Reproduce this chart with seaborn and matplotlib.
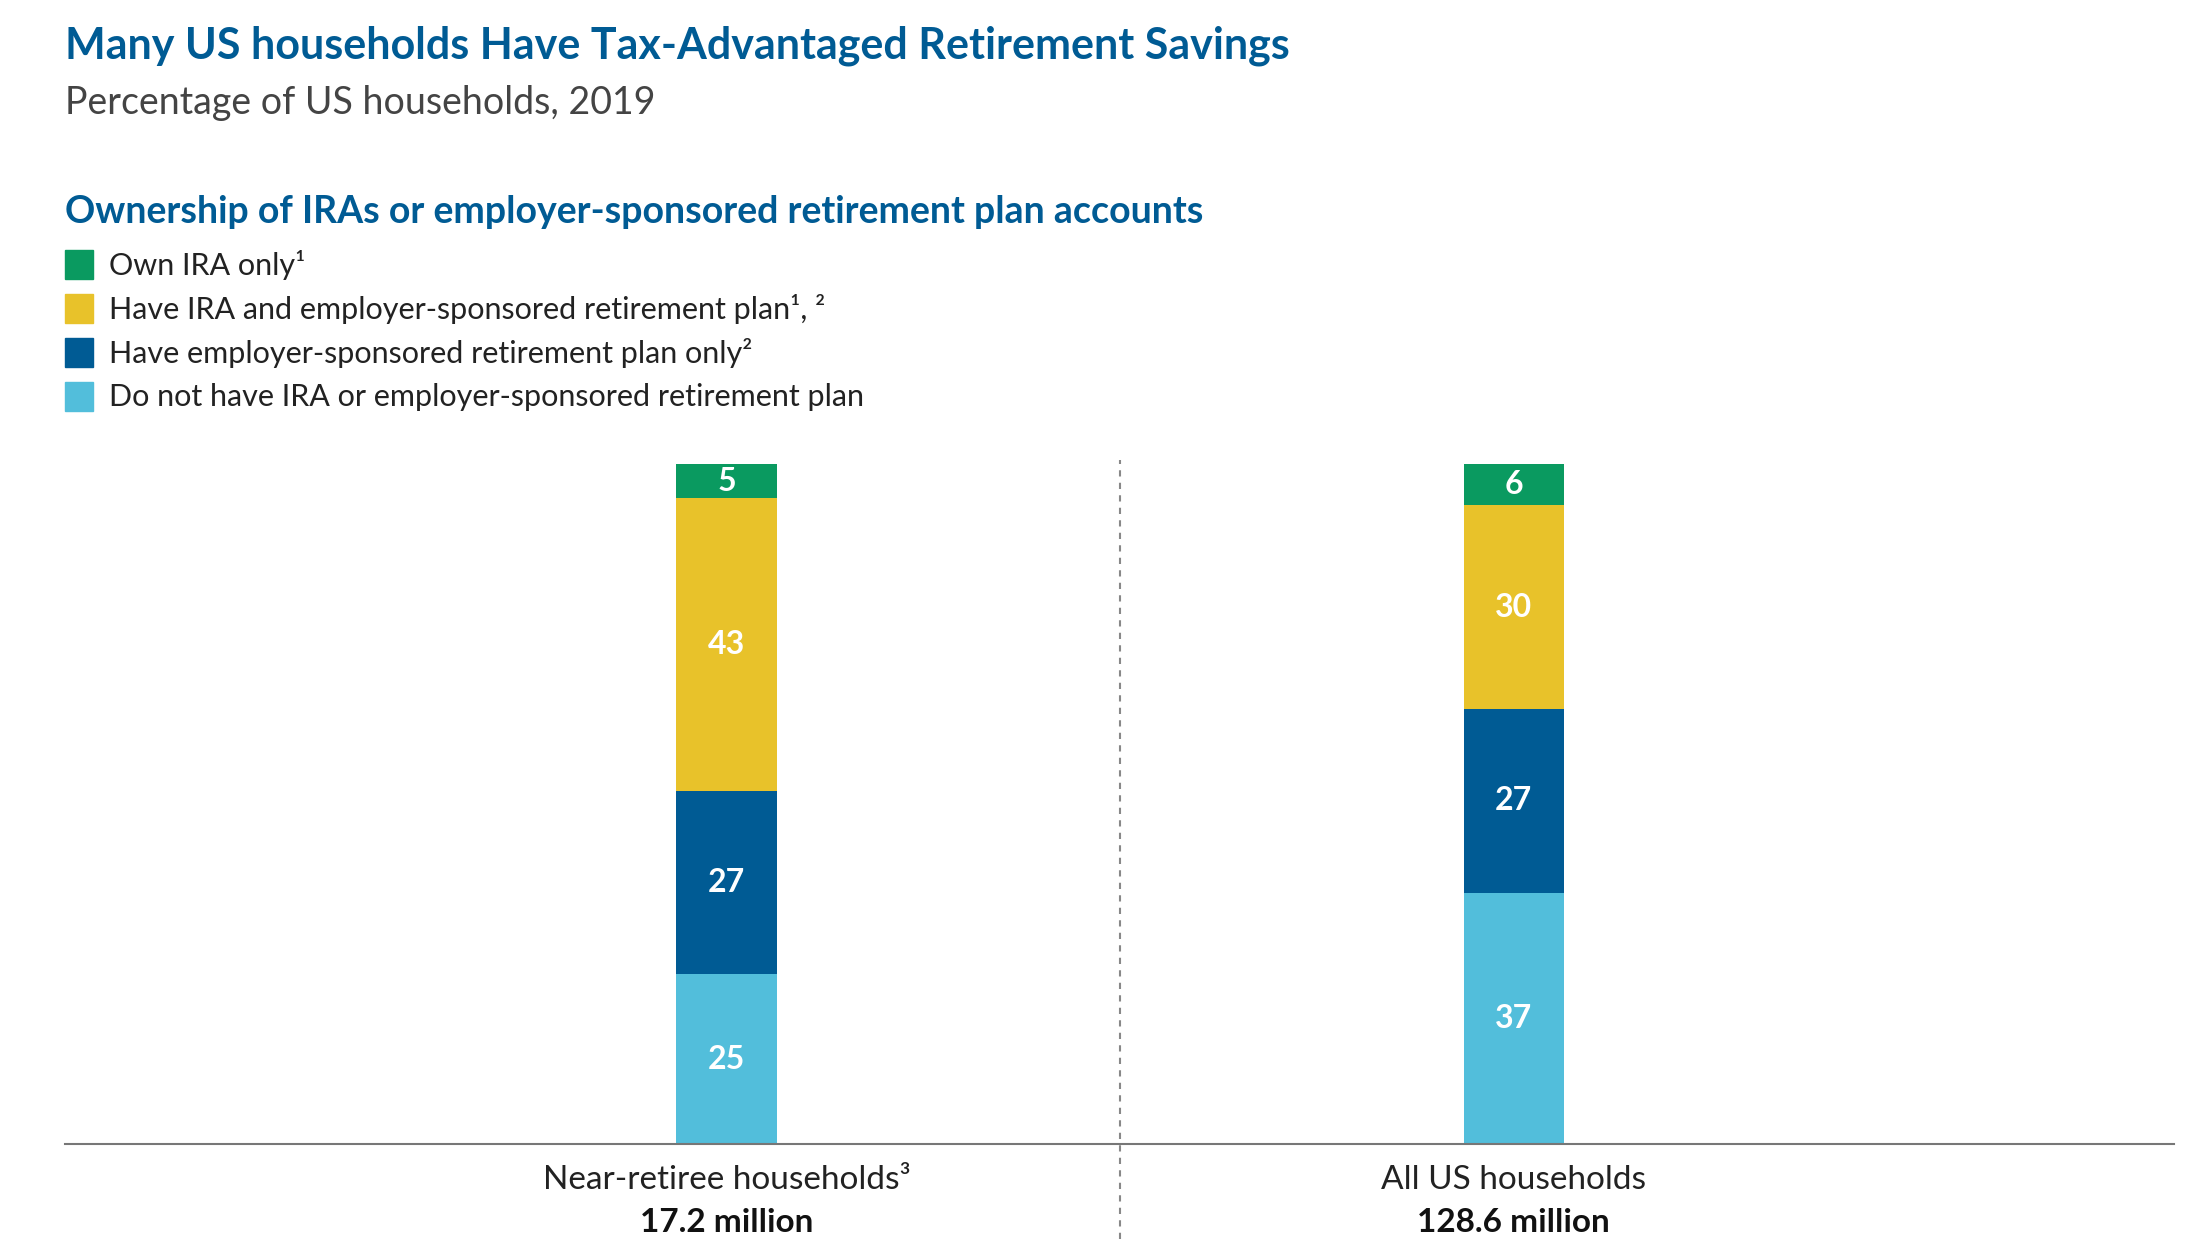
import matplotlib
matplotlib.use("Agg")
import matplotlib.pyplot as plt
import matplotlib.transforms as mtransforms
from matplotlib.patches import Rectangle
import seaborn as sns
import numpy as np

# Data
groups = ["Near-retiree households³", "All US households"]
group_totals = ["17.2 million", "128.6 million"]
series_names = [
    "Do not have IRA or employer-sponsored retirement plan",
    "Have employer-sponsored retirement plan only²",
    "Have IRA and employer-sponsored retirement plan¹, ²",
    "Own IRA only¹",
]
no_plan = [25, 37]
employer_only = [27, 27]
ira_and_employer = [43, 30]
ira_only = [5, 6]
colors = ["#52bedb", "#005b94", "#e8c22a", "#0a9a60"]

sns.set_style("white")
plt.rcParams["font.family"] = ["Lato", "DejaVu Sans"]

fig = plt.figure(figsize=(22.09, 12.6), dpi=100)
ax = fig.add_axes([0.0295, 0.092, 0.9545, 0.5395])

layers = [no_plan, employer_only, ira_and_employer, ira_only]
bottom = np.zeros(len(groups))
x = np.arange(len(groups))
for vals, col in zip(layers, colors):
    sns.barplot(x=x, y=vals, bottom=bottom, color=col, width=0.1277,
                ax=ax, saturation=1, linewidth=0, native_scale=True)
    for xi, b, v in zip(x, bottom, vals):
        ax.text(xi, b + v / 2, str(v), ha="center", va="center",
                color="white", fontsize=23, fontweight="bold")
    bottom = bottom + np.array(vals)

ax.set_xlim(-0.840, 1.838)
ax.set_ylim(0, 100)
ax.set_xticks([])
ax.set_yticks([])
ax.set_xlabel("")
ax.set_ylabel("")
for s in ["top", "left", "right"]:
    ax.spines[s].set_visible(False)
ax.spines["bottom"].set_color("#777777")
ax.spines["bottom"].set_linewidth(1.5)

trans = mtransforms.blended_transform_factory(ax.transData, ax.transAxes)
ax.plot([0.5, 0.5], [-0.14, 1.006], transform=trans, color="#888888",
        linestyle=(0, (3, 3)), linewidth=1.5, clip_on=False)

for xi, g, t in zip(x, groups, group_totals):
    ax.text(xi, -0.053, g, transform=trans, ha="center", va="center",
            fontsize=24, color="#222222")
    ax.text(xi, -0.115, t, transform=trans, ha="center", va="center",
            fontsize=24, fontweight="bold", color="#111111")

# Titles
fig.text(0.0295, 0.964, "Many US households Have Tax-Advantaged Retirement Savings",
         fontsize=31, fontweight="bold", color="#005b94", va="center")
fig.text(0.0295, 0.918, "Percentage of US households, 2019",
         fontsize=27, color="#444444", va="center")
fig.text(0.0295, 0.832, "Ownership of IRAs or employer-sponsored retirement plan accounts",
         fontsize=27, fontweight="bold", color="#005b94", va="center")

# Legend
leg_y = [0.790, 0.755, 0.720, 0.685]
for y, name, col in zip(leg_y, series_names[::-1], colors[::-1]):
    fig.patches.append(Rectangle((0.0295, y - 0.0115), 0.0128, 0.023,
                                 transform=fig.transFigure, color=col))
    fig.text(0.0495, y, name, fontsize=22, color="#222222", va="center")

fig.savefig("out.png", dpi=100)
